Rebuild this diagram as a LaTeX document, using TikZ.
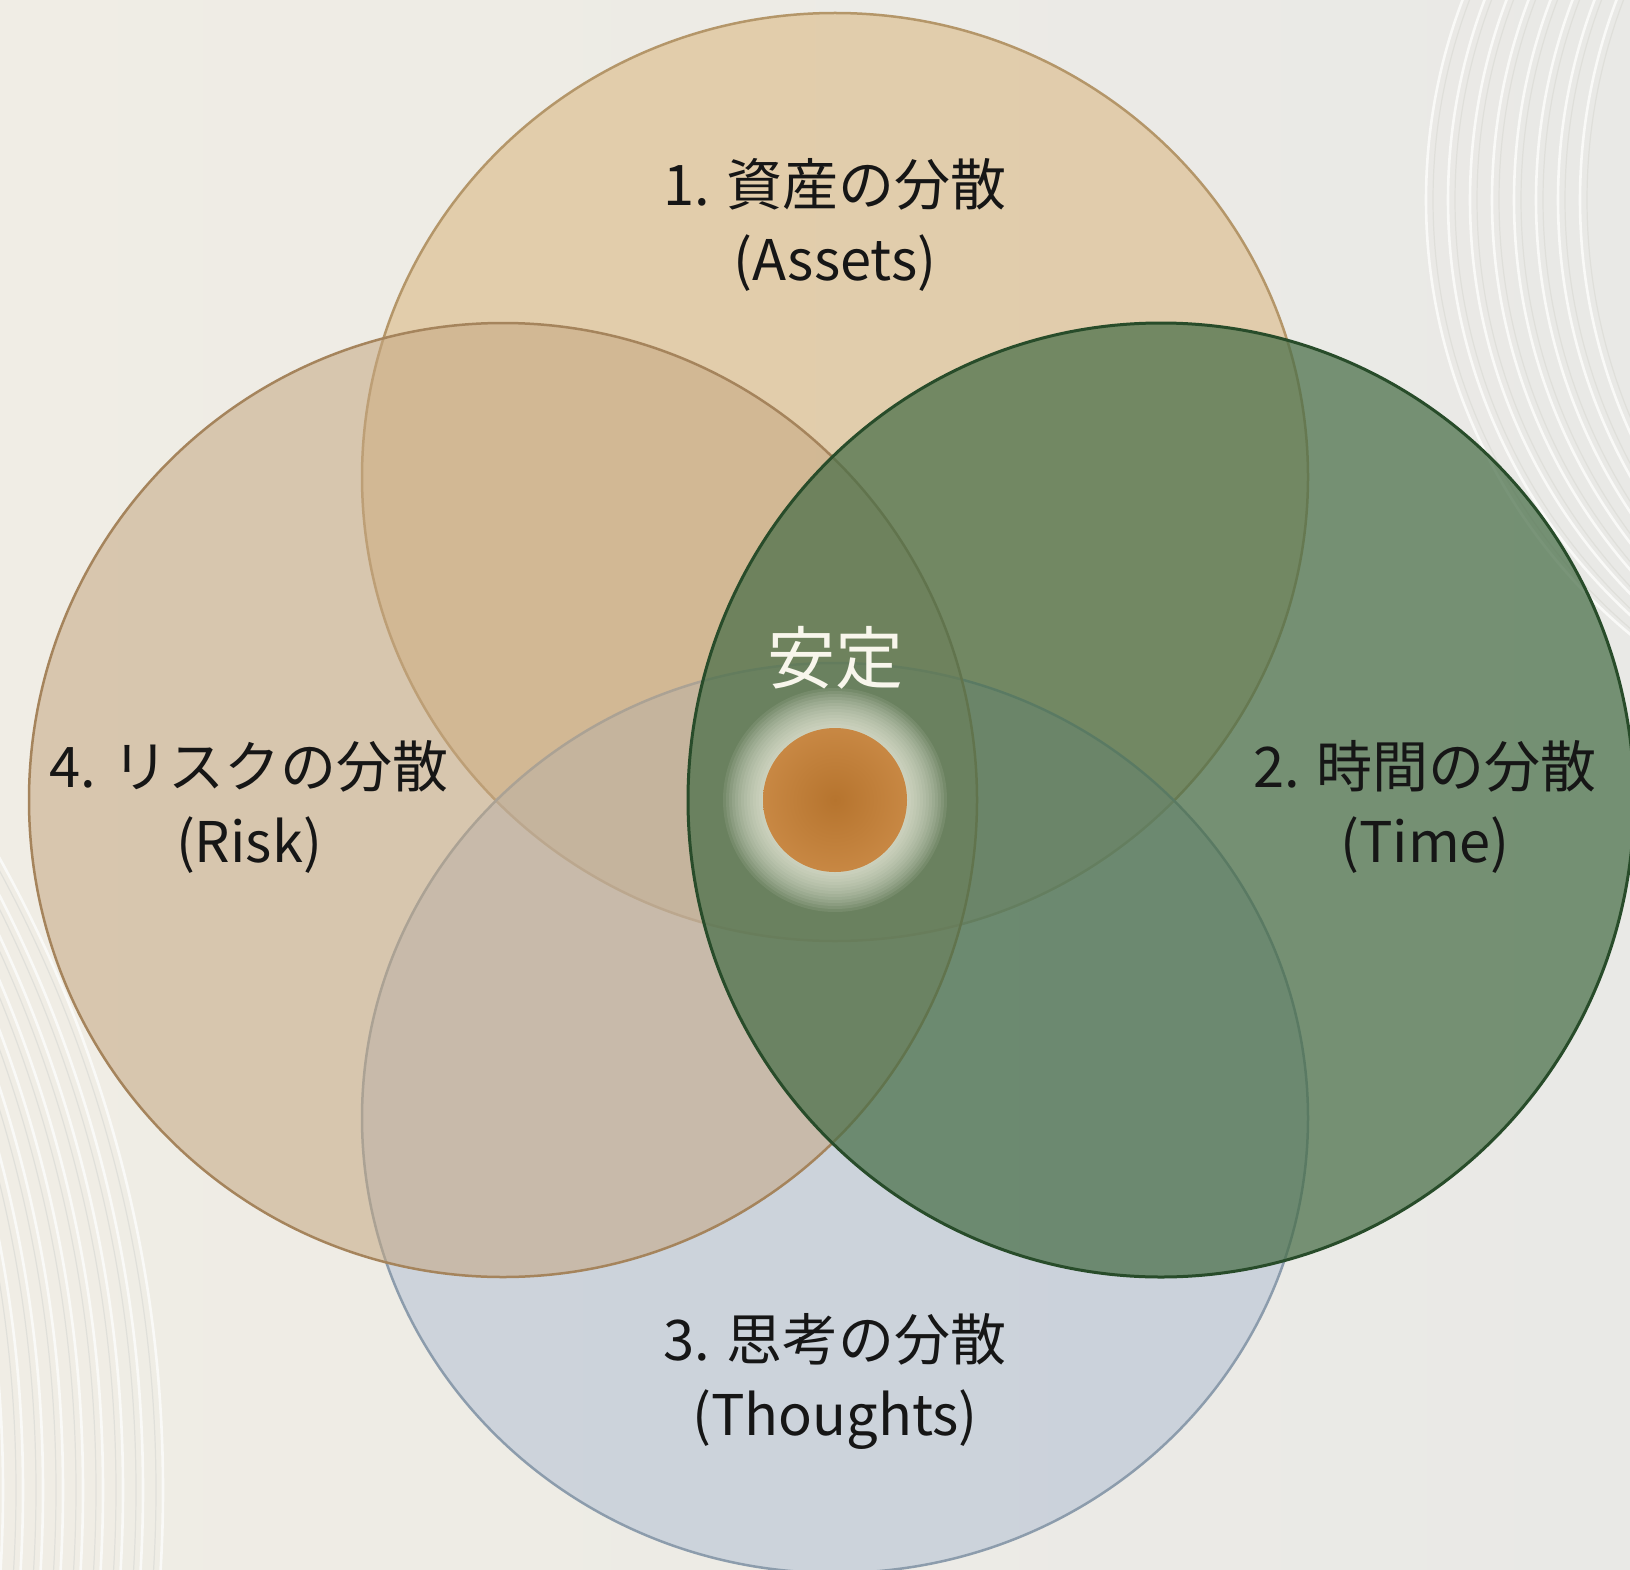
\documentclass[tikz,border=0pt]{standalone}
\usepackage{fontspec}
\newfontfamily\jpfont{Noto Sans CJK JP}
\definecolor{bgL}{RGB}{240,237,229}
\definecolor{bgR}{RGB}{233,233,230}
\definecolor{arcW}{RGB}{251,251,249}
\definecolor{arcG}{RGB}{221,221,216}
\definecolor{topF}{RGB}{217,181,125}
\definecolor{topS}{RGB}{180,150,105}
\definecolor{botF}{RGB}{173,188,210}
\definecolor{botS}{RGB}{140,156,172}
\definecolor{lefF}{RGB}{197,167,130}
\definecolor{lefS}{RGB}{165,132,92}
\definecolor{rigF}{RGB}{72,110,72}
\definecolor{rigS}{RGB}{40,76,42}
\definecolor{orbA}{RGB}{182,116,46}
\definecolor{orbB}{RGB}{202,138,70}
\definecolor{orbC}{RGB}{212,156,94}
\definecolor{glowC}{RGB}{247,245,230}
\definecolor{txtW}{RGB}{248,246,236}
\definecolor{txtK}{RGB}{22,22,22}
\pgfdeclareradialshading{orbshade}{\pgfpointorigin}{color(0bp)=(orbA); color(28bp)=(orbB); color(46bp)=(orbC); color(50bp)=(orbC)}
\begin{document}
\begin{tikzpicture}[x=1pt,y=-1pt,
  lab/.style={font=\jpfont\fontsize{56pt}{60pt}\selectfont, text=txtK, inner sep=0pt, anchor=base},
  calm/.style={font=\jpfont\fontsize{68pt}{72pt}\selectfont, text=txtW, inner sep=0pt, anchor=base},
  arcwhite/.style={draw=arcW, line width=2.6pt, opacity=0.9},
  arcgrey/.style={draw=arcG, line width=1.2pt, opacity=0.8},
  topcirc/.style={fill=topF, fill opacity=0.55, draw=topS, line width=2.5pt},
  botcirc/.style={fill=botF, fill opacity=0.5, draw=botS, line width=2.5pt},
  lefcirc/.style={fill=lefF, fill opacity=0.55, draw=lefS, line width=2.5pt},
  rigcirc/.style={fill=rigF, fill opacity=0.72, draw=rigS, line width=3pt},
  glowring/.style={fill=glowC, fill opacity=0.09}]
\useasboundingbox (0,0) rectangle (1630,1570);
\shade[left color=bgL, right color=bgR] (0,0) rectangle (1630,1570);
% background arcs
\begin{scope}
  \clip (0,0) rectangle (1630,1570);
  \foreach \k in {0,...,7} {
    \draw[arcgrey] ({1990+22*\k+7},200) circle (564pt);
    \draw[arcwhite] ({1990+22*\k},200) circle (564pt);
  }
  \foreach \k in {0,...,8} {
    \draw[arcgrey] ({-1138-20*\k-7},1490) circle (1301pt);
    \draw[arcwhite] ({-1138-20*\k},1490) circle (1301pt);
  }
\end{scope}
% centres
\coordinate (cT) at (835,477);
\coordinate (cB) at (835,1118);
\coordinate (cL) at (503,800);
\coordinate (cR) at (1161,800);
\coordinate (cO) at (835,800);
% circles
\path[topcirc] (cT) ellipse [x radius=473pt, y radius=464pt];
\path[botcirc] (cB) ellipse [x radius=473pt, y radius=455pt];
\path[lefcirc] (cL) ellipse [x radius=474pt, y radius=477pt];
\path[rigcirc] (cR) ellipse [x radius=473pt, y radius=477pt];
% glow and orb
\foreach \r in {112,109,...,72} {
  \fill[glowring] (cO) circle (\r pt);
}
\shade[shading=orbshade] (cO) circle (72pt);
% texts
\node[calm] (stab) at (835,683) {安定};
\node[lab] (l1a) at (835,206) {1. 資産の分散};
\node[lab] (l1b) at (835,281) {(Assets)};
\node[lab] (l2a) at (1425,787) {2. 時間の分散};
\node[lab] (l2b) at (1425,862) {(Time)};
\node[lab] (l3a) at (835,1360) {3. 思考の分散};
\node[lab] (l3b) at (835,1435) {(Thoughts)};
\node[lab] (l4a) at (249,787) {4. リスクの分散};
\node[lab] (l4b) at (249,862) {(Risk)};
\end{tikzpicture}
\end{document}
